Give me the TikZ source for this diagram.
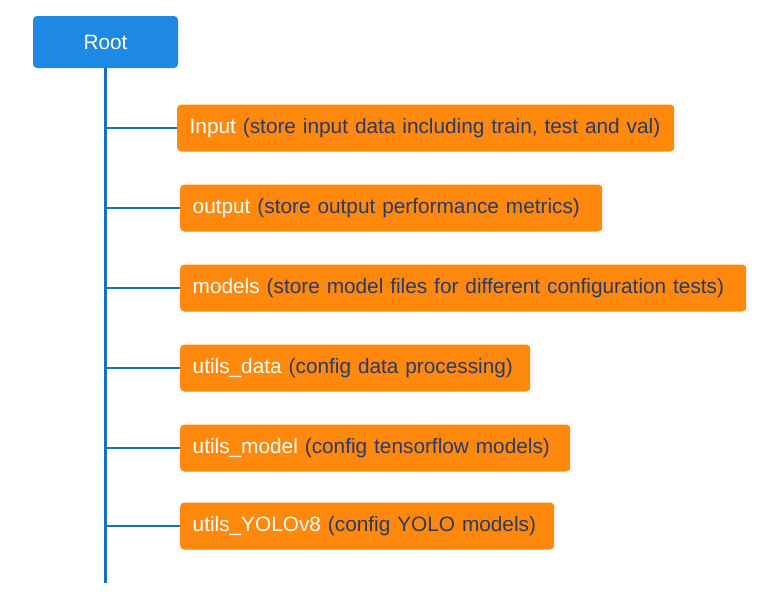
\documentclass[tikz,border=0pt]{standalone}
\usepackage{fontspec}
\setmainfont{Liberation Sans}
\usepackage{xcolor}
\usetikzlibrary{positioning,calc}
\definecolor{rootblue}{HTML}{1E88E5}
\definecolor{trunkblue}{HTML}{1470C2}
\definecolor{boxorange}{HTML}{FD880B}
\definecolor{descnavy}{HTML}{2B3B66}
\begin{document}
\begin{tikzpicture}[x=1pt,y=-1pt,
					rootbox/.style={
						fill=rootblue, rounded corners=4pt, text=white,
						minimum width=145pt, minimum height=52pt,
						font=\fontsize{20.8}{24}\selectfont
					},
					folder/.style={
						fill=boxorange, rounded corners=4pt, text=white,
						anchor=west, minimum height=47pt, inner xsep=12.5pt,
						font=\fontsize{20.8}{24}\selectfont, align=left
					},
					link/.style={
						draw=trunkblue, line width=2.6pt
					}
					]
					\useasboundingbox (0,0) rectangle (772,603);
					
					% root node
					\node[rootbox] (root) at (105.5,42) {Root};
					\coordinate (trunkend) at (105.5,583);
					\draw[link] (root.south) -- (trunkend);
					
					% folders
					\foreach \i/\x/\y/\w/\name/\desc in {
						1/177/128/497/Input/{store input data including train, test and val},
						2/180/208/422/output/{store output performance metrics},
						3/180/288/566/models/{store model files for different configuration tests},
						4/180/368/350/utils\_data/{config data processing},
						5/180/448/390/utils\_model/{config tensorflow models},
						6/180/526/374/utils\_YOLOv8/{config YOLO models}} {
						\node[folder, text width=\w pt-25pt] (f\i) at (\x,\y) {\name\ \textcolor{descnavy}{(\desc)}};
						\draw[link] (root.south |- f\i.west) -- (f\i.west);
					}
				\end{tikzpicture}
\end{document}
